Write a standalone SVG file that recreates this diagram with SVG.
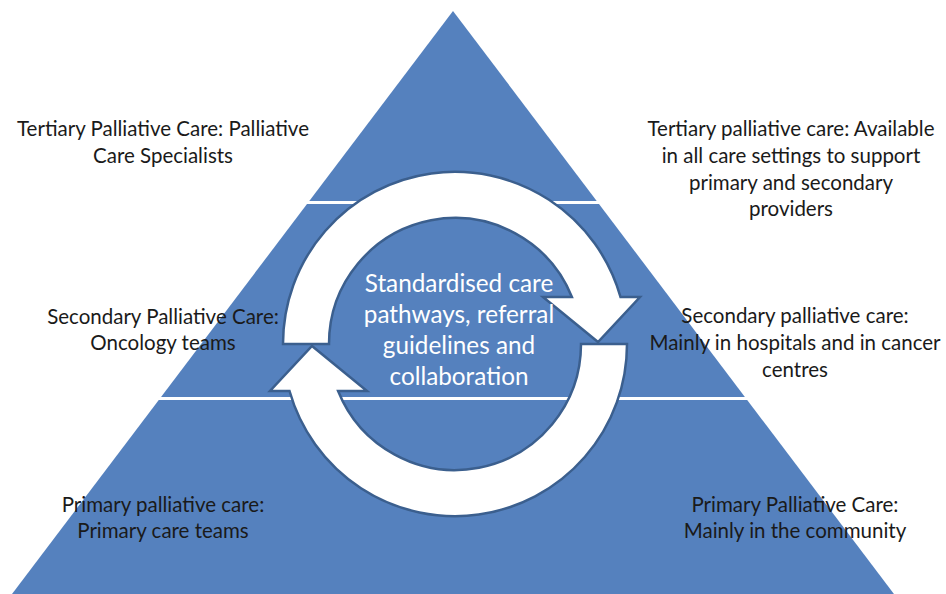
<svg xmlns="http://www.w3.org/2000/svg" width="946" height="594" viewBox="0 0 946 594">
<style>
.lbl{font-family:Lato,"Open Sans","Liberation Sans",sans-serif;font-size:20.5px;fill:#1a1a1a;text-anchor:middle}
.ctr{font-family:Lato,"Open Sans","Liberation Sans",sans-serif;font-size:24.3px;fill:#ffffff;text-anchor:middle}
.sep{stroke:#ffffff;stroke-width:3}
.arr{fill:#ffffff;stroke:#3b5f8e;stroke-width:2.5;stroke-linejoin:miter}
</style>
<defs>
<path id="arrowShape" d="M283,344 A172,172 0 0 1 620.5,297 L640,297 L598,342 L543,297 L571.9,297 A126,126 0 0 0 329,344 Z"/>
</defs>
<rect width="946" height="594" fill="#ffffff"/>
<g id="pyramid">
<polygon points="453,11 9,598 897,598" fill="#5581be"/>
<line class="sep" x1="290" y1="202.5" x2="620" y2="202.5"/>
<line class="sep" x1="150" y1="398.5" x2="760" y2="398.5"/>
</g>
<g id="connectors">
<use href="#arrowShape" class="arr"/>
<use href="#arrowShape" class="arr" transform="rotate(180 455 344)"/>
</g>
<g id="center">
<text class="ctr" x="459" y="292">Standardised care</text>
<text class="ctr" x="459" y="323">pathways, referral</text>
<text class="ctr" x="459" y="354">guidelines and</text>
<text class="ctr" x="459" y="385">collaboration</text>
</g>
<g id="tertiary-left">
<text class="lbl" x="163" y="136">Tertiary Palliative Care: Palliative</text>
<text class="lbl" x="163" y="163">Care Specialists</text>
</g>
<g id="tertiary-right">
<text class="lbl" x="791" y="136">Tertiary palliative care: Available</text>
<text class="lbl" x="791" y="163">in all care settings to support</text>
<text class="lbl" x="791" y="190">primary and secondary</text>
<text class="lbl" x="791" y="216">providers</text>
</g>
<g id="secondary-left">
<text class="lbl" x="163" y="324">Secondary Palliative Care:</text>
<text class="lbl" x="163" y="350">Oncology teams</text>
</g>
<g id="secondary-right">
<text class="lbl" x="795" y="323">Secondary palliative care:</text>
<text class="lbl" x="795" y="350">Mainly in hospitals and in cancer</text>
<text class="lbl" x="795" y="377">centres</text>
</g>
<g id="primary-left">
<text class="lbl" x="163" y="512">Primary palliative care:</text>
<text class="lbl" x="163" y="538">Primary care teams</text>
</g>
<g id="primary-right">
<text class="lbl" x="795" y="512">Primary Palliative Care:</text>
<text class="lbl" x="795" y="538">Mainly in the community</text>
</g>
</svg>
